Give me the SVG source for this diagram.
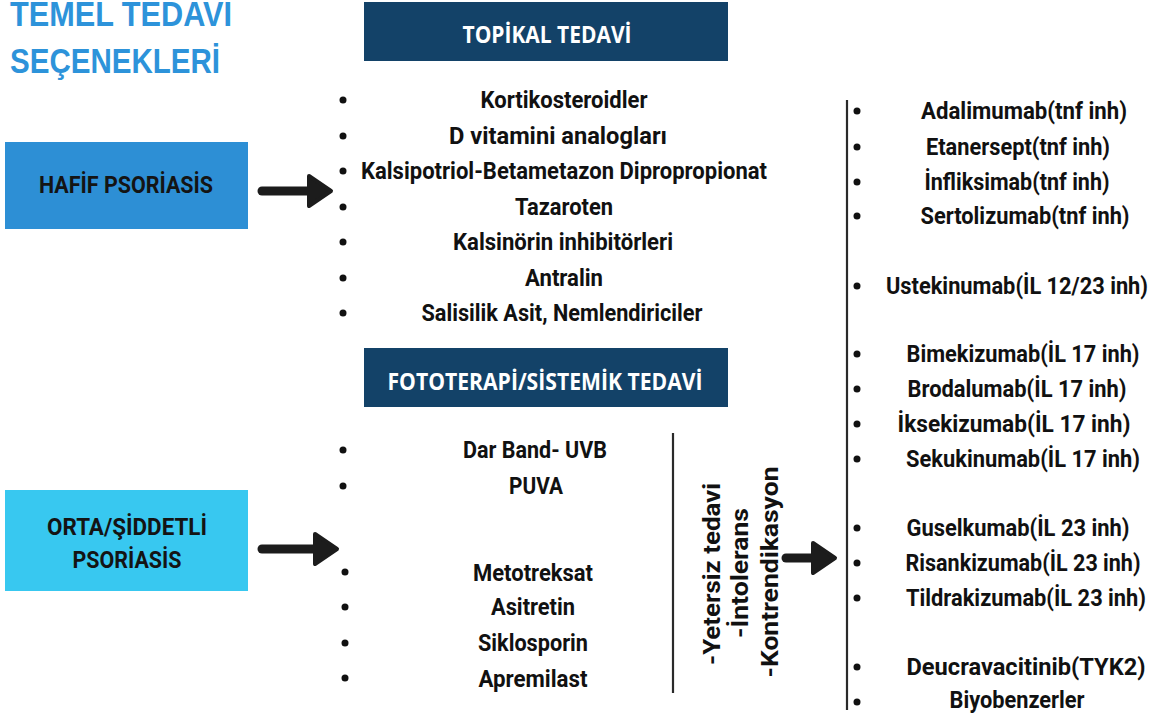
<svg xmlns="http://www.w3.org/2000/svg" width="1162" height="719" viewBox="0 0 1162 719">
<style>
.title{font-family:"Liberation Sans",Arial,sans-serif;font-weight:bold;font-size:35px;fill:#2D93DA}
.hdr{font-family:"Open Sans","Liberation Sans",sans-serif;font-weight:bold;font-size:24px;fill:#ffffff;text-anchor:middle}
.lbl{font-family:Roboto,"Liberation Sans",sans-serif;font-weight:bold;font-size:24px;fill:#141414;text-anchor:middle}
.it{font-family:Roboto,"Liberation Sans",sans-serif;font-weight:bold;font-size:23px;fill:#111111;text-anchor:middle}
.bul{fill:#111111}
.vline{stroke:#2a2a2a;stroke-width:2.2;fill:none}
.shaft{stroke:#1c1c1c;stroke-width:9;stroke-linecap:round;fill:none}
</style>
<defs>
<marker id="ah" markerWidth="32" markerHeight="40" refX="4" refY="18" orient="auto" markerUnits="userSpaceOnUse">
<path d="M3,3 L25,18 L3,33 Z" fill="#1c1c1c" stroke="#1c1c1c" stroke-width="4" stroke-linejoin="round"/>
</marker>
</defs>
<rect width="1162" height="719" fill="#ffffff"/>

<g id="title">
<text class="title" x="10" y="26" textLength="222" lengthAdjust="spacingAndGlyphs">TEMEL TEDAVI</text>
<text class="title" x="10" y="73" textLength="210" lengthAdjust="spacingAndGlyphs">SEÇENEKLERİ</text>
</g>

<g id="topikal-header">
<rect x="364" y="2" width="364" height="59" fill="#134268"/>
<text class="hdr" x="547" y="43" textLength="169" lengthAdjust="spacingAndGlyphs">TOPİKAL TEDAVİ</text>
</g>

<g id="fototerapi-header">
<rect x="364" y="348" width="364" height="59" fill="#134268"/>
<text class="hdr" x="545" y="390" textLength="315" lengthAdjust="spacingAndGlyphs">FOTOTERAPİ/SİSTEMİK TEDAVİ</text>
</g>

<g id="hafif">
<rect x="5" y="142" width="243" height="87" fill="#2D8FD5"/>
<text class="lbl" x="126" y="193" textLength="174" lengthAdjust="spacingAndGlyphs">HAFİF PSORİASİS</text>
</g>

<g id="orta">
<rect x="5" y="490" width="243" height="101" fill="#38C8F0"/>
<text class="lbl" x="127" y="535" textLength="160" lengthAdjust="spacingAndGlyphs">ORTA/ŞİDDETLİ</text>
<text class="lbl" x="127" y="568" textLength="109" lengthAdjust="spacingAndGlyphs">PSORİASİS</text>
</g>

<g id="topikal-list">
<circle class="bul" cx="343" cy="100" r="3.5"/><text class="it" x="564" y="108" textLength="167" lengthAdjust="spacingAndGlyphs">Kortikosteroidler</text>
<circle class="bul" cx="343" cy="136" r="3.5"/><text class="it" x="558" y="144" textLength="218" lengthAdjust="spacingAndGlyphs">D vitamini analogları</text>
<circle class="bul" cx="343" cy="171" r="3.5"/><text class="it" x="564" y="179" textLength="406" lengthAdjust="spacingAndGlyphs">Kalsipotriol-Betametazon Dipropropionat</text>
<circle class="bul" cx="343" cy="207" r="3.5"/><text class="it" x="564" y="215" textLength="98" lengthAdjust="spacingAndGlyphs">Tazaroten</text>
<circle class="bul" cx="343" cy="242" r="3.5"/><text class="it" x="563" y="250" textLength="220" lengthAdjust="spacingAndGlyphs">Kalsinörin inhibitörleri</text>
<circle class="bul" cx="343" cy="278" r="3.5"/><text class="it" x="564" y="286" textLength="78" lengthAdjust="spacingAndGlyphs">Antralin</text>
<circle class="bul" cx="343" cy="313" r="3.5"/><text class="it" x="562" y="321" textLength="281" lengthAdjust="spacingAndGlyphs">Salisilik Asit, Nemlendiriciler</text>
</g>

<g id="fototerapi-list">
<circle class="bul" cx="343" cy="450" r="3.5"/><text class="it" x="535" y="458" textLength="144" lengthAdjust="spacingAndGlyphs">Dar Band- UVB</text>
<circle class="bul" cx="343" cy="486" r="3.5"/><text class="it" x="536" y="494" textLength="54" lengthAdjust="spacingAndGlyphs">PUVA</text>
<circle class="bul" cx="345" cy="572" r="3.5"/><text class="it" x="533" y="581" textLength="120" lengthAdjust="spacingAndGlyphs">Metotreksat</text>
<circle class="bul" cx="345" cy="607" r="3.5"/><text class="it" x="533" y="615" textLength="84" lengthAdjust="spacingAndGlyphs">Asitretin</text>
<circle class="bul" cx="345" cy="643" r="3.5"/><text class="it" x="533" y="651" textLength="110" lengthAdjust="spacingAndGlyphs">Siklosporin</text>
<circle class="bul" cx="345" cy="678" r="3.5"/><text class="it" x="533" y="687" textLength="109" lengthAdjust="spacingAndGlyphs">Apremilast</text>
</g>

<g id="neden">
<text class="it" transform="translate(720,574) rotate(-90)" x="0" y="0" textLength="182" lengthAdjust="spacingAndGlyphs">-Yetersiz tedavi</text>
<text class="it" transform="translate(748,573) rotate(-90)" x="0" y="0" textLength="130" lengthAdjust="spacingAndGlyphs">-İntolerans</text>
<text class="it" transform="translate(778,572) rotate(-90)" x="0" y="0" textLength="211" lengthAdjust="spacingAndGlyphs">-Kontrendikasyon</text>
</g>

<g id="biyolojik-list">
<circle class="bul" cx="857" cy="111" r="3.5"/><text class="it" x="1024" y="119" textLength="206" lengthAdjust="spacingAndGlyphs">Adalimumab(tnf inh)</text>
<circle class="bul" cx="857" cy="147" r="3.5"/><text class="it" x="1018" y="155" textLength="184" lengthAdjust="spacingAndGlyphs">Etanersept(tnf inh)</text>
<circle class="bul" cx="857" cy="182" r="3.5"/><text class="it" x="1017" y="190" textLength="185" lengthAdjust="spacingAndGlyphs">İnfliksimab(tnf inh)</text>
<circle class="bul" cx="857" cy="216" r="3.5"/><text class="it" x="1025" y="224" textLength="209" lengthAdjust="spacingAndGlyphs">Sertolizumab(tnf inh)</text>
<circle class="bul" cx="857" cy="286" r="3.5"/><text class="it" x="1017" y="294" textLength="262" lengthAdjust="spacingAndGlyphs">Ustekinumab(İL 12/23 inh)</text>
<circle class="bul" cx="857" cy="354" r="3.5"/><text class="it" x="1023" y="362" textLength="233" lengthAdjust="spacingAndGlyphs">Bimekizumab(İL 17 inh)</text>
<circle class="bul" cx="857" cy="389" r="3.5"/><text class="it" x="1017" y="397" textLength="219" lengthAdjust="spacingAndGlyphs">Brodalumab(İL 17 inh)</text>
<circle class="bul" cx="857" cy="424" r="3.5"/><text class="it" x="1014" y="432" textLength="233" lengthAdjust="spacingAndGlyphs">İksekizumab(İL 17 inh)</text>
<circle class="bul" cx="857" cy="459" r="3.5"/><text class="it" x="1023" y="467" textLength="234" lengthAdjust="spacingAndGlyphs">Sekukinumab(İL 17 inh)</text>
<circle class="bul" cx="857" cy="528" r="3.5"/><text class="it" x="1018" y="536" textLength="223" lengthAdjust="spacingAndGlyphs">Guselkumab(İL 23 inh)</text>
<circle class="bul" cx="857" cy="563" r="3.5"/><text class="it" x="1023" y="571" textLength="235" lengthAdjust="spacingAndGlyphs">Risankizumab(İL 23 inh)</text>
<circle class="bul" cx="857" cy="598" r="3.5"/><text class="it" x="1026" y="606" textLength="240" lengthAdjust="spacingAndGlyphs">Tildrakizumab(İL 23 inh)</text>
<circle class="bul" cx="857" cy="667" r="3.5"/><text class="it" x="1026" y="675" textLength="239" lengthAdjust="spacingAndGlyphs">Deucravacitinib(TYK2)</text>
<circle class="bul" cx="857" cy="702" r="3.5"/><text class="it" x="1017" y="708" textLength="135" lengthAdjust="spacingAndGlyphs">Biyobenzerler</text>
</g>

<g id="connectors">
<line class="shaft" x1="262" y1="191" x2="310" y2="191" marker-end="url(#ah)"/>
<line class="shaft" x1="262" y1="549" x2="316" y2="549" marker-end="url(#ah)"/>
<line class="shaft" x1="786" y1="558" x2="814" y2="558" marker-end="url(#ah)"/>
<line class="vline" x1="673" y1="433" x2="673" y2="693"/>
<line class="vline" x1="847" y1="100" x2="847" y2="710"/>
</g>
</svg>
